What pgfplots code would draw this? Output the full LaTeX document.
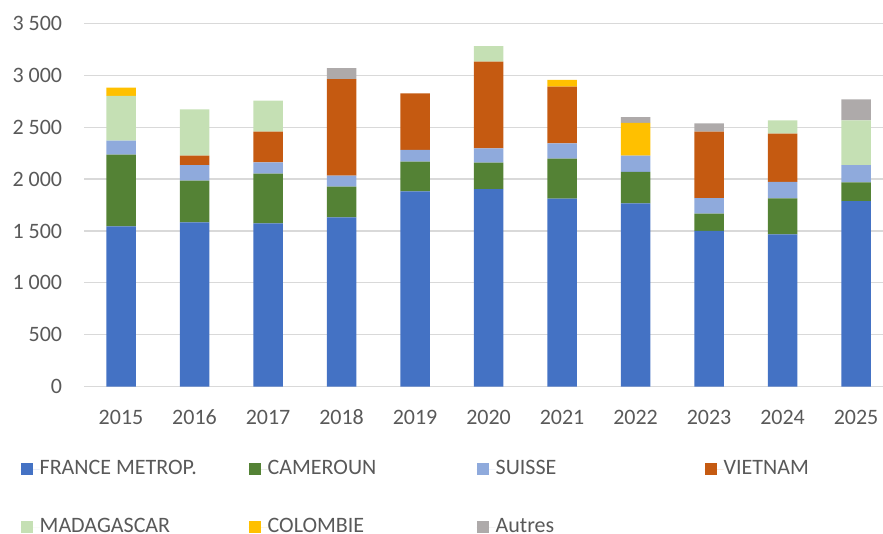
\documentclass[border=0pt]{standalone}
\usepackage{fontspec}
\setmainfont{Carlito}
\usepackage{pgfplots}
\usepackage{pgfplotstable}
\pgfplotsset{compat=1.18}

\definecolor{cFrance}{HTML}{4472C4}
\definecolor{cCameroun}{HTML}{548235}
\definecolor{cSuisse}{HTML}{8FAADC}
\definecolor{cVietnam}{HTML}{C55A11}
\definecolor{cMadagascar}{HTML}{C5E0B4}
\definecolor{cColombie}{HTML}{FFC000}
\definecolor{cAutres}{HTML}{AEAAAA}
\definecolor{cGrid}{HTML}{D9D9D9}
\definecolor{cText}{HTML}{595959}

% one row per year, 2015..2025
\pgfplotstableread{
idx France Cameroun Suisse Vietnam Madagascar Colombie Autres
0  1545 689 135 0   431 80  0
1  1583 401 151 90  446 0   0
2  1574 477 110 295 299 0   0
3  1631 295 106 931 0   0   106
4  1882 285 113 546 0   0   0
5  1904 253 139 834 151 0   0
6  1811 385 148 545 0   65  0
7  1766 302 157 0   0   315 57
8  1500 166 151 639 0   0   81
9  1468 346 158 465 129 0   0
10 1788 181 166 0   431 0   202
}\data

\newcommand{\legtxt}[1]{\makebox[209pt][l]{#1}}

\begin{document}
\fontsize{22}{26}\selectfont
\begin{tikzpicture}
\begin{axis}[
  at={(0,0)}, anchor=south west,
  scale only axis, width=808.5pt, height=363.4pt,
  ybar stacked, bar width=29.5pt,
  xmin=-0.5, xmax=10.5, ymin=0, ymax=3500,
  xtick={0,...,10},
  xticklabels={2015,2016,2017,2018,2019,2020,2021,2022,2023,2024,2025},
  ytick={0,500,...,3500},
  yticklabels={0,500,1 000,1 500,2 000,2 500,3 000,3 500},
  ymajorgrids, grid style={draw=cGrid, line width=1.1pt},
  axis line style={draw=none}, major tick length=0pt,
  tick label style={font=\fontsize{22}{26}\selectfont, text=cText},
  xticklabel style={anchor=base, inner sep=0pt, yshift=-37.4pt},
  yticklabel style={anchor=east, inner sep=0pt, xshift=-22pt},
  legend columns=4,
  legend cell align=left,
  legend image code/.code={\fill[#1] (0pt,-6pt) rectangle (12pt,6pt); \path (0pt,0pt) -- (19pt,0pt);},
  legend style={at={(0,0)}, anchor=north west, xshift=-63.6pt, yshift=-73.7pt,
    draw=none, fill=none, inner sep=0pt, outer sep=0pt,
    column sep=0pt, row sep=40.5pt,
    nodes={inner sep=0pt, text=cText, font=\fontsize{22}{26}\selectfont}},
]
\addplot[fill=cFrance, draw=none] table[x=idx, y=France] {\data};
\addplot[fill=cCameroun, draw=none] table[x=idx, y=Cameroun] {\data};
\addplot[fill=cSuisse, draw=none] table[x=idx, y=Suisse] {\data};
\addplot[fill=cVietnam, draw=none] table[x=idx, y=Vietnam] {\data};
\addplot[fill=cMadagascar, draw=none] table[x=idx, y=Madagascar] {\data};
\addplot[fill=cColombie, draw=none] table[x=idx, y=Colombie] {\data};
\addplot[fill=cAutres, draw=none] table[x=idx, y=Autres] {\data};
\legend{\legtxt{FRANCE METROP.},\legtxt{CAMEROUN},\legtxt{SUISSE},\legtxt{VIETNAM},
  \legtxt{MADAGASCAR},\legtxt{COLOMBIE},\legtxt{Autres}}
\end{axis}
\pgfresetboundingbox
\path[use as bounding box] (-84.3pt,-146.3pt) rectangle (798.7pt,386.7pt);
\end{tikzpicture}
\end{document}
